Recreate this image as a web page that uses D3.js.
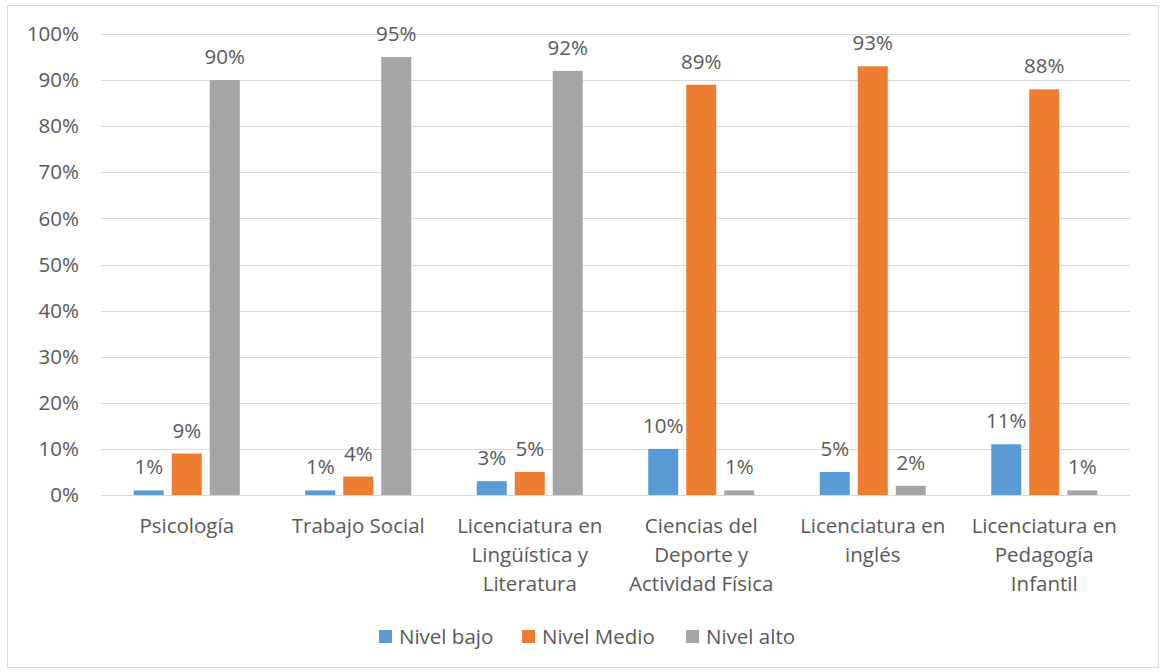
<!DOCTYPE html>
<html>
<head>
<meta charset="UTF-8">
<title>Niveles por programa</title>
<script src="https://d3js.org/d3.v7.min.js"></script>
<style>
  body { margin: 0; background: #fff; }
  text { font-family: "Open Sans", Lato, sans-serif; fill: #595959; font-size: 20.5px; }
</style>
</head>
<body>
<script>
// DATA
var categories = [
  ["Psicología"],
  ["Trabajo Social"],
  ["Licenciatura en", "Lingüística y", "Literatura"],
  ["Ciencias del", "Deporte y", "Actividad Física"],
  ["Licenciatura en", "inglés"],
  ["Licenciatura en", "Pedagogía", "Infantil"]
];
var seriesNames = ["Nivel bajo", "Nivel Medio", "Nivel alto"];
var nivelBajo  = [1, 1, 3, 10, 5, 11];
var nivelMedio = [9, 4, 5, 89, 93, 88];
var nivelAlto  = [90, 95, 92, 1, 2, 1];
var yTicks = [0, 10, 20, 30, 40, 50, 60, 70, 80, 90, 100];
var colors = ["#5B9BD5", "#ED7D31", "#A5A5A5"];

var series = [nivelBajo, nivelMedio, nivelAlto];

var W = 1160, H = 672;
var plot = {left: 101, right: 1130, top: 34, bottom: 495};

var svg = d3.select("body").append("svg")
  .attr("width", W).attr("height", H);

// chart border
svg.append("rect")
  .attr("x", 7.5).attr("y", 5.5)
  .attr("width", 1151).attr("height", 662)
  .attr("fill", "#fff").attr("stroke", "#D9D9D9");

// SCALES
var y = d3.scaleLinear().domain([0, 100]).range([plot.bottom, plot.top]);
var x0 = d3.scaleBand()
  .domain(d3.range(categories.length))
  .range([plot.left, plot.right]);
var groupW = 106;
var x1 = d3.scaleBand()
  .domain(d3.range(series.length))
  .range([0, groupW])
  .paddingInner(8 / 38);

// GRIDLINES
svg.append("g").selectAll("line")
  .data(yTicks).join("line")
  .attr("x1", plot.left).attr("x2", plot.right)
  .attr("y1", function (d) { return Math.round(y(d)) + 0.5; })
  .attr("y2", function (d) { return Math.round(y(d)) + 0.5; })
  .attr("stroke", "#D9D9D9").attr("stroke-width", 1);

// Y AXIS LABELS
svg.append("g").selectAll("text")
  .data(yTicks).join("text")
  .attr("x", 79)
  .attr("y", function (d) { return y(d); })
  .attr("dy", "0.35em")
  .attr("text-anchor", "end")
  .text(function (d) { return d + "%"; });

// BARS
var groups = svg.append("g").selectAll("g")
  .data(categories).join("g")
  .attr("transform", function (d, i) {
    return "translate(" + (x0(i) + (x0.bandwidth() - groupW) / 2) + ",0)";
  });

groups.each(function (c, i) {
  var g = d3.select(this);
  series.forEach(function (s, k) {
    g.append("rect")
      .attr("x", x1(k))
      .attr("y", y(s[i]))
      .attr("width", x1.bandwidth())
      .attr("height", y(0) - y(s[i]))
      .attr("fill", colors[k]);
    g.append("text")
      .attr("x", x1(k) + x1.bandwidth() / 2)
      .attr("y", y(s[i]) - 16)
      .attr("text-anchor", "middle")
      .text(s[i] + "%");
  });
});

// CATEGORY LABELS
svg.append("g").selectAll("text")
  .data(categories).join("text")
  .attr("x", function (d, i) { return x0(i) + x0.bandwidth() / 2; })
  .attr("y", 533)
  .attr("text-anchor", "middle")
  .each(function (lines) {
    var t = d3.select(this);
    lines.forEach(function (l, j) {
      t.append("tspan")
        .attr("x", t.attr("x"))
        .attr("dy", j === 0 ? 0 : 29)
        .text(l);
    });
  });

// LEGEND
var legendX = [379, 522, 686];
var legend = svg.append("g").selectAll("g")
  .data(seriesNames).join("g")
  .attr("transform", function (d, i) { return "translate(" + legendX[i] + ",630)"; });
legend.append("rect")
  .attr("width", 13).attr("height", 13)
  .attr("fill", function (d, i) { return colors[i]; });
legend.append("text")
  .attr("x", 20).attr("y", 7)
  .attr("dy", "0.35em")
  .text(function (d) { return d; });
</script>
</body>
</html>
